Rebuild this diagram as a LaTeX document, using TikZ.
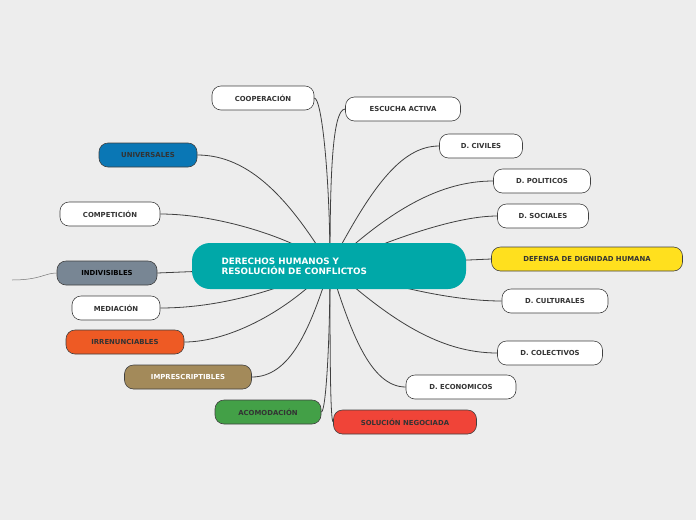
\documentclass[tikz,border=0pt]{standalone}
\usepackage{fontspec}
\setmainfont{DejaVu Sans}
\begin{document}
\begin{tikzpicture}[x=1pt,y=-1pt,
 tag/.style={draw=black!75,line width=0.6pt,rounded corners=9pt,minimum height=24pt,inner sep=0pt,font=\fontsize{6.9}{8}\selectfont\bfseries,text=black!80},
 conn/.style={draw=black!75,line width=0.8pt}]
\fill[black!7] (0,0) rectangle (696,520);
\useasboundingbox (0,0) rectangle (696,520);
\coordinate (c) at (330,266);
\node[tag,fill=white,minimum width=102pt] (coop) at (263,98) {COOPERACIÓN};
\node[tag,fill=white,minimum width=115pt] (esc) at (403,109) {ESCUCHA ACTIVA};
\node[tag,fill={rgb,255:red,10;green,119;blue,181},minimum width=98pt] (univ) at (148,155) {UNIVERSALES};
\node[tag,fill=white,minimum width=83pt] (civ) at (481,146) {D. CIVILES};
\node[tag,fill=white,minimum width=97pt] (pol) at (542,181) {D. POLITICOS};
\node[tag,fill=white,minimum width=100pt] (comp) at (110,214) {COMPETICIÓN};
\node[tag,fill=white,minimum width=91pt] (soc) at (543,216) {D. SOCIALES};
\node[tag,fill={rgb,255:red,255;green,224;blue,30},minimum width=191pt] (def) at (587,259) {DEFENSA DE DIGNIDAD HUMANA};
\node[tag,fill={rgb,255:red,120;green,134;blue,148},text=black,minimum width=100pt] (ind) at (107,273) {INDIVISIBLES};
\node[tag,fill=white,minimum width=88pt] (med) at (116,308) {MEDIACIÓN};
\node[tag,fill=white,minimum width=106pt] (cul) at (555,301) {D. CULTURALES};
\node[tag,fill={rgb,255:red,238;green,90;blue,36},minimum width=118pt] (irr) at (125,342) {IRRENUNCIABLES};
\node[tag,fill=white,minimum width=105pt] (col) at (550,353) {D. COLECTIVOS};
\node[tag,fill={rgb,255:red,163;green,138;blue,90},text=white,minimum width=127pt] (imp) at (188,377) {IMPRESCRIPTIBLES};
\node[tag,fill=white,minimum width=110pt] (eco) at (461,387) {D. ECONOMICOS};
\node[tag,fill={rgb,255:red,67;green,160;blue,71},minimum width=106pt] (aco) at (268,412) {ACOMODACIÓN};
\node[tag,fill={rgb,255:red,240;green,68;blue,56},minimum width=143pt] (sol) at (405,422) {SOLUCIÓN NEGOCIADA};
\coordinate (free) at (12,280);
\draw[draw=black!55,line width=0.5pt] (ind.west) .. controls (45,273) and (40,280) .. (free);
\draw[conn] (c) .. controls (330,180) and (322,98) .. (coop.east);
\draw[conn] (c) .. controls (330,180) and (332,109) .. (esc.west);
\draw[conn] (c) .. controls (290,200) and (250,155) .. (univ.east);
\draw[conn] (c) .. controls (370,190) and (400,146) .. (civ.west);
\draw[conn] (c) .. controls (390,210) and (440,181) .. (pol.west);
\draw[conn] (c) .. controls (300,240) and (220,214) .. (comp.east);
\draw[conn] (c) .. controls (400,235) and (460,216) .. (soc.west);
\draw[conn] (c) -- (def.west);
\draw[conn] (c) -- (ind.east);
\draw[conn] (c) .. controls (280,290) and (220,308) .. (med.east);
\draw[conn] (c) .. controls (400,290) and (460,301) .. (cul.west);
\draw[conn] (c) .. controls (290,310) and (230,342) .. (irr.east);
\draw[conn] (c) .. controls (390,320) and (440,353) .. (col.west);
\draw[conn] (c) .. controls (310,330) and (290,377) .. (imp.east);
\draw[conn] (c) .. controls (350,330) and (370,387) .. (eco.west);
\draw[conn] (c) .. controls (330,340) and (326,412) .. (aco.east);
\draw[conn] (c) .. controls (330,340) and (330,422) .. (sol.west);
\node[fill={rgb,255:red,0;green,168;blue,168},rounded corners=18pt,minimum width=274pt,minimum height=46pt,inner sep=0pt] (main) at (329,266) {};
\node[anchor=west,text=white,font=\fontsize{8.8}{10}\selectfont\bfseries,align=left] (mt) at (218,266) {DERECHOS HUMANOS Y\\RESOLUCIÓN DE CONFLICTOS};
\end{tikzpicture}
\end{document}
